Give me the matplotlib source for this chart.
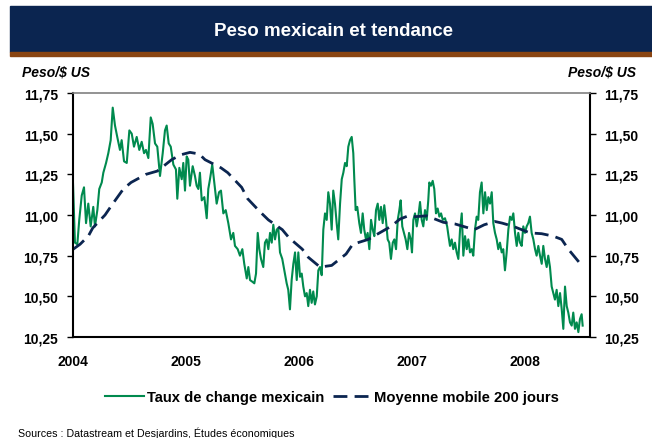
import matplotlib
matplotlib.use("Agg")
import matplotlib.pyplot as plt
from matplotlib.patches import Rectangle

plt.rcParams["font.family"] = ["Liberation Sans", "DejaVu Sans"]

TITLE = "Peso mexicain et tendance"
UNIT = "Peso/$ US"
SOURCE = "Sources : Datastream et Desjardins, Études économiques"
SERIES_NAMES = ["Taux de change mexicain", "Moyenne mobile 200 jours"]
YEARS = [2004, 2005, 2006, 2007, 2008]
Y_TICKS = [10.25, 10.50, 10.75, 11.00, 11.25, 11.50, 11.75]
Y_LABELS = ["10,25", "10,50", "10,75", "11,00", "11,25", "11,50", "11,75"]

# exchange rate, time in years since 2004-01-01
rate_t = [0.000, 0.019, 0.040, 0.057, 0.079, 0.099, 0.117, 0.137, 0.158, 0.181,
          0.196, 0.217, 0.234, 0.256, 0.270, 0.294, 0.314, 0.335, 0.353, 0.373,
          0.393, 0.417, 0.432, 0.453, 0.477, 0.500, 0.521, 0.541, 0.565, 0.588,
          0.609, 0.630, 0.647, 0.668, 0.689, 0.706, 0.727, 0.747, 0.771, 0.795,
          0.815, 0.830, 0.848, 0.866, 0.889, 0.912, 0.924, 0.942, 0.963, 0.977,
          0.992, 1.007, 1.021, 1.036, 1.060, 1.080, 1.095, 1.110, 1.124, 1.140,
          1.163, 1.184, 1.198, 1.213, 1.233, 1.251, 1.272, 1.293, 1.310, 1.331,
          1.352, 1.375, 1.399, 1.419, 1.434, 1.458, 1.478, 1.499, 1.516, 1.538,
          1.552, 1.567, 1.587, 1.605, 1.620, 1.635, 1.649, 1.664, 1.684, 1.699,
          1.714, 1.729, 1.744, 1.759, 1.773, 1.788, 1.803, 1.817, 1.832, 1.852,
          1.870, 1.891, 1.905, 1.920, 1.935, 1.950, 1.965, 1.980, 1.994, 2.009,
          2.024, 2.038, 2.053, 2.068, 2.082, 2.097, 2.112, 2.126, 2.141, 2.157,
          2.171, 2.186, 2.201, 2.215, 2.230, 2.245, 2.259, 2.274, 2.289, 2.303,
          2.318, 2.333, 2.347, 2.363, 2.378, 2.392, 2.407, 2.422, 2.436, 2.451,
          2.466, 2.480, 2.489, 2.501, 2.515, 2.533, 2.548, 2.563, 2.577, 2.592,
          2.607, 2.622, 2.637, 2.652, 2.666, 2.681, 2.696, 2.710, 2.725, 2.740,
          2.754, 2.769, 2.784, 2.798, 2.813, 2.829, 2.843, 2.858, 2.873, 2.887,
          2.899, 2.913, 2.928, 2.943, 2.958, 2.973, 2.988, 2.999, 3.011, 3.026,
          3.041, 3.055, 3.070, 3.085, 3.099, 3.114, 3.129, 3.143, 3.152, 3.167,
          3.182, 3.196, 3.211, 3.226, 3.241, 3.256, 3.271, 3.291, 3.310, 3.322,
          3.335, 3.350, 3.364, 3.379, 3.394, 3.409, 3.424, 3.439, 3.453, 3.468,
          3.483, 3.497, 3.512, 3.527, 3.541, 3.556, 3.571, 3.585, 3.600, 3.615,
          3.630, 3.645, 3.660, 3.674, 3.689, 3.704, 3.718, 3.733, 3.748, 3.762,
          3.777, 3.792, 3.806, 3.821, 3.836, 3.851, 3.866, 3.881, 3.895, 3.910,
          3.925, 3.939, 3.954, 3.969, 3.983, 3.998, 4.013, 4.027, 4.042, 4.057,
          4.072, 4.087, 4.101, 4.116, 4.131, 4.146, 4.160, 4.175, 4.190, 4.204,
          4.219, 4.234, 4.248, 4.263, 4.278, 4.293, 4.308, 4.323, 4.337, 4.352,
          4.367, 4.381, 4.396, 4.411, 4.425, 4.440, 4.455, 4.470, 4.484, 4.499,
          4.508]
rate_v = [11.23, 10.83, 10.82, 10.97, 11.12, 11.17, 10.95, 11.07, 10.93, 11.05,
          10.93, 11.03, 11.16, 11.20, 11.26, 11.32, 11.38, 11.46, 11.66, 11.55,
          11.48, 11.40, 11.46, 11.33, 11.32, 11.52, 11.50, 11.42, 11.48, 11.40,
          11.45, 11.38, 11.40, 11.35, 11.60, 11.56, 11.44, 11.42, 11.24, 11.38,
          11.52, 11.55, 11.44, 11.42, 11.31, 11.28, 11.10, 11.29, 11.22, 11.32,
          11.15, 11.36, 11.34, 11.18, 11.30, 11.24, 11.18, 11.16, 11.26, 11.09,
          11.11, 10.98, 11.16, 11.22, 11.31, 11.20, 11.07, 11.14, 11.15, 11.01,
          11.03, 10.95, 10.85, 10.89, 10.81, 10.79, 10.75, 10.79, 10.70, 10.61,
          10.68, 10.60, 10.59, 10.58, 10.64, 10.89, 10.79, 10.73, 10.68, 10.83,
          10.85, 10.79, 10.89, 10.83, 10.94, 10.85, 10.91, 10.92, 10.77, 10.73,
          10.66, 10.58, 10.54, 10.42, 10.60, 10.70, 10.77, 10.60, 10.77, 10.62,
          10.64, 10.56, 10.50, 10.52, 10.44, 10.54, 10.46, 10.53, 10.45, 10.50,
          10.66, 10.68, 10.63, 10.91, 11.01, 10.97, 11.14, 11.07, 10.91, 11.15,
          11.07, 10.95, 10.85, 11.07, 11.22, 11.26, 11.32, 11.30, 11.42, 11.46,
          11.48, 11.38, 11.22, 11.03, 11.05, 10.95, 10.89, 11.01, 10.91, 10.85,
          10.89, 10.79, 10.97, 10.91, 10.87, 11.03, 11.07, 10.97, 11.05, 10.95,
          11.06, 10.97, 10.85, 10.83, 10.73, 10.83, 10.85, 10.79, 10.97, 11.03,
          11.09, 10.93, 10.89, 10.85, 10.79, 10.89, 10.85, 10.77, 10.97, 11.01,
          10.93, 10.99, 11.08, 10.97, 10.93, 11.03, 10.97, 11.09, 11.20, 11.18,
          11.21, 11.16, 11.01, 11.04, 10.99, 11.01, 10.97, 10.98, 10.93, 10.87,
          10.81, 10.85, 10.79, 10.83, 10.77, 10.73, 10.91, 11.01, 10.75, 10.87,
          10.79, 10.85, 10.77, 10.79, 10.75, 10.91, 10.99, 10.97, 11.14, 11.20,
          11.01, 11.14, 11.03, 11.11, 11.07, 11.14, 10.95, 10.89, 10.85, 10.79,
          10.83, 10.77, 10.79, 10.66, 10.77, 10.91, 10.99, 10.97, 11.01, 10.89,
          10.81, 10.89, 10.83, 10.81, 10.93, 10.89, 10.93, 10.95, 10.99, 10.89,
          10.85, 10.79, 10.75, 10.81, 10.75, 10.70, 10.81, 10.73, 10.68, 10.75,
          10.68, 10.56, 10.52, 10.48, 10.54, 10.44, 10.52, 10.42, 10.30, 10.56,
          10.44, 10.40, 10.34, 10.32, 10.40, 10.30, 10.34, 10.28, 10.36, 10.39,
          10.32]

# 200-day moving average
ma_t = [0.004, 0.064, 0.137, 0.176, 0.285, 0.344, 0.447, 0.515, 0.647, 0.747,
        0.874, 0.954, 1.036, 1.118, 1.169, 1.310, 1.370, 1.493, 1.546, 1.655,
        1.729, 1.852, 1.912, 2.029, 2.082, 2.186, 2.289, 2.416, 2.475, 2.613,
        2.687, 2.813, 2.893, 2.966, 3.034, 3.129, 3.276, 3.379, 3.550, 3.638,
        3.733, 3.797, 3.895, 4.042, 4.146, 4.248, 4.323, 4.381, 4.476]
ma_v = [10.79, 10.82, 10.87, 10.92, 11.00, 11.06, 11.16, 11.20, 11.25, 11.27,
        11.34, 11.37, 11.385, 11.375, 11.34, 11.29, 11.26, 11.17, 11.10, 11.02,
        10.97, 10.91, 10.86, 10.79, 10.74, 10.68, 10.69, 10.76, 10.82, 10.85,
        10.88, 10.93, 10.975, 10.995, 10.99, 10.995, 10.955, 10.945, 10.91, 10.94,
        10.96, 10.95, 10.93, 10.89, 10.885, 10.87, 10.85, 10.79, 10.71]

GREEN = "#008a4e"
NAVY = "#0b2550"
BROWN = "#8a4512"

W, H = 652, 439
fig = plt.figure(figsize=(W / 100, H / 100), dpi=100)

# title banner
fig.patches.append(Rectangle((10 / W, 1 - 53 / H), 642 / W, 46 / H,
                             transform=fig.transFigure, color=NAVY, zorder=0))
fig.patches.append(Rectangle((10 / W, 1 - 57 / H), 642 / W, 4 / H,
                             transform=fig.transFigure, color=BROWN, zorder=0))
fig.text(333 / W, 1 - 31 / H, TITLE, color="white", fontsize=13.5,
         fontweight="bold", ha="center", va="center")

ax = fig.add_axes([72.8 / W, 1 - 338 / H, (589.5 - 72.8) / W, 244 / H])

ax.plot([2004 + t for t in rate_t], rate_v, color=GREEN, lw=1.5,
        label=SERIES_NAMES[0])
ax.plot([2004 + t for t in ma_t], ma_v, color=NAVY, lw=2.0,
        dashes=(5, 2.6), label=SERIES_NAMES[1])

ax.set_xlim(2004, 2004 + (589.5 - 72.8) / 113.1)
ax.set_ylim(10.25, 11.75)
ax.set_yticks(Y_TICKS)
ax.set_yticklabels(Y_LABELS)
ax.set_xticks(YEARS)
ax.set_xticklabels([str(y) for y in YEARS])

ax.tick_params(axis="y", direction="out", length=4.5, width=1,
               left=True, right=True, labelleft=True, labelright=True,
               labelsize=10, pad=6)
ax.tick_params(axis="x", length=0, labelsize=10, pad=12)
for tk in ax.yaxis.get_major_ticks() + ax.xaxis.get_major_ticks():
    tk.label1.set_fontweight("bold")
    tk.label2.set_fontweight("bold")

for side in ["left", "right", "bottom"]:
    ax.spines[side].set_color("black")
    ax.spines[side].set_linewidth(1.5)
ax.spines["top"].set_color("#808080")
ax.spines["top"].set_linewidth(1.2)

fig.text(22 / W, 1 - 73 / H, UNIT, fontsize=10, fontweight="bold",
         fontstyle="italic", ha="left", va="center")
fig.text(636 / W, 1 - 73 / H, UNIT, fontsize=10, fontweight="bold",
         fontstyle="italic", ha="right", va="center")

fig.legend(loc="center", bbox_to_anchor=(332 / W, 1 - 398 / H), ncol=2,
           frameon=False, handlelength=2.6, handletextpad=0.2,
           columnspacing=0.6, prop={"size": 10.6, "weight": "bold"})

fig.text(18 / W, 1 - 433 / H, SOURCE, fontsize=7.7, ha="left", va="center")

fig.savefig("out.png", dpi=100)
